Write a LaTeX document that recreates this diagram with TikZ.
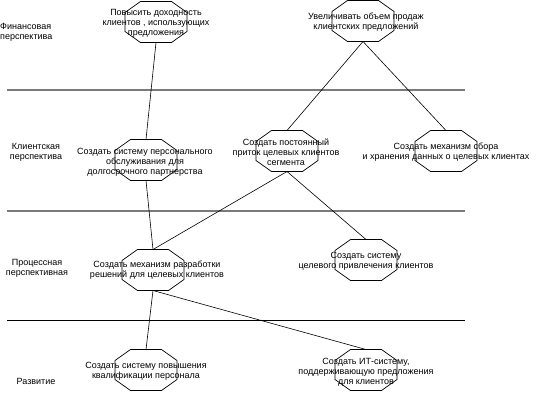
\documentclass[tikz,border=0pt]{standalone}
\usepackage{fontspec}
\setmainfont{Liberation Sans}
\usetikzlibrary{
  positioning
}
\definecolor{bscRule}{HTML}{7A7A7A}
\definecolor{bscEdge}{HTML}{000000}
\tikzset{
  goal/.style={
    rectangle, minimum width=62pt, minimum height=41pt,
    inner sep=0pt, outer sep=0pt
  },
  octa/.style={draw=bscEdge, line width=0.7pt, line join=miter},
  goaltext/.style={font=\fontsize{9}{10}\selectfont, align=center, inner sep=0pt},
  persp/.style={font=\fontsize{9}{10}\selectfont, align=center, inner sep=0pt},
  divline/.style={line width=1.6pt, bscRule},
  lastline/.style={line width=1pt, black},
  link/.style={line width=0.6pt, bscEdge}
}

\begin{document}
\begin{tikzpicture}[x=1pt, y=-1pt]
  \useasboundingbox (0,0) rectangle (540,402);

  % perspective rules
  \foreach \r/\y/\sty in {a/90/divline, b/211/divline, c/320/lastline}{
    \coordinate (rule\r w) at (7,\y);
    \coordinate (rule\r e) at (465,\y);
    \draw[\sty] (rule\r w) -- (rule\r e);
  }

  % perspectives
  \node[persp, anchor=west, align=left] (pfin) at (0,32) {Финансовая\\перспектива};
  \node[persp] (pcli) at (36,152) {Клиентская\\перспектива};
  \node[persp] (ppro) at (37,268) {Процессная\\перспективная};
  \node[persp] (pdev) at (36,381) {Развитие};

  % goals (octagons)
  \foreach \n/\x/\y in {o1/156/22, o2/363/21, o3/146/160, o4/287/151,
    o5/446/151, o6/153/270, o7/366/260, o8/146/370, o9/366/370}{
    \node[goal] (\n) at (\x,\y) {};
    \draw[octa] (\n.north west) ++(15.5,0) -- ++(31,0) -- ++(15.5,11)
      -- ++(0,19) -- ++(-15.5,11) -- ++(-31,0) -- ++(-15.5,-11)
      -- ++(0,-19) -- cycle;
  }

  \node[goaltext] (t1) at (156,23) {Повысить доходность\\клиентов , использующих\\предложения};
  \node[goaltext] (t2) at (366,22) {Увеличивать объем продаж\\клиентских предложений};
  \node[goaltext] (t3) at (145,162) {Создать систему персонального\\обслуживания для\\долгосрочного партнерства};
  \node[goaltext] (t4) at (286,152) {Создать постоянный\\приток целевых клиентов\\сегмента};
  \node[goaltext] (t5) at (446,152) {Создать механизм сбора\\и хранения данных о целевых клиентах};
  \node[goaltext] (t6) at (157,270) {Создать механизм разработки\\решений для целевых клиентов};
  \node[goaltext] (t7) at (366,261) {Создать систему\\целевого привлечения клиентов};
  \node[goaltext] (t8) at (146,371) {Создать систему повышения\\квалификации персонала};
  \node[goaltext] (t9) at (366,372) {Создать ИТ-систему,\\поддерживающую предложения\\для клиентов};

  % links
  \draw[link] (o1.south) -- (o3.north);
  \draw[link] (o2.south) -- (o4.north);
  \draw[link] (o2.south) -- (o5.north);
  \draw[link] (o3.south) -- (o6.north);
  \draw[link] (o4.south) -- (o6.north);
  \draw[link] (o4.south) -- (o7.north);
  \draw[link] (o6.south) -- (o8.north);
  \draw[link] (o6.south) -- (o9.north);
\end{tikzpicture}
\end{document}
